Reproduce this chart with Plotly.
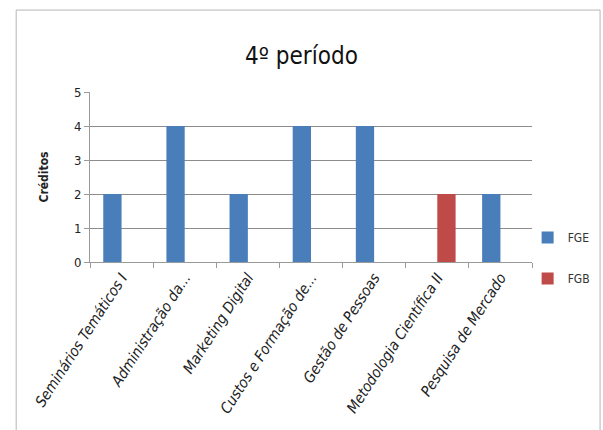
import plotly.graph_objects as go

# Disciplinas do 4º período e créditos por tipo de formação
disciplinas = [
    "Seminários Temáticos I",
    "Administração da...",
    "Marketing Digital",
    "Custos e Formação de...",
    "Gestão de Pessoas",
    "Metodologia Científica II",
    "Pesquisa de Mercado",
]
creditos_fge = [2, 4, 2, 4, 4, None, 2]
creditos_fgb = [None, None, None, None, None, 2, None]
y_ticks = [0, 1, 2, 3, 4, 5]

FONT = "DejaVu Sans Condensed, Liberation Sans Narrow, Open Sans, sans-serif"

fig = go.Figure()
fig.add_trace(go.Bar(x=disciplinas, y=creditos_fge, name="FGE",
                     marker=dict(color="#4a7ebb", line=dict(width=0)),
                     legendgroup="a"))
fig.add_trace(go.Bar(x=disciplinas, y=creditos_fgb, name="FGB",
                     marker=dict(color="#be4b48", line=dict(width=0)),
                     legendgroup="b"))

fig.update_layout(
    width=603, height=430,
    margin=dict(l=90, r=71, t=92, b=168, autoexpand=False),
    paper_bgcolor="white", plot_bgcolor="white",
    barmode="group", bargap=0.42, bargroupgap=0,
    font=dict(family=FONT, color="#222"),
    title=dict(text="4º período", x=0.5, xanchor="center",
               y=0.87, yanchor="middle",
               font=dict(family=FONT, size=24, color="#111")),
    legend=dict(xref="container", x=0.875, y=0.40, xanchor="left",
                yanchor="middle", yref="container",
                font=dict(family=FONT, size=12, color="#333"),
                tracegroupgap=22, itemwidth=30, bgcolor="rgba(0,0,0,0)"),
    xaxis=dict(showgrid=False, showline=True, linecolor="#9a9a9a",
               ticks="outside", ticklen=5, tickcolor="#9a9a9a",
               tickson="boundaries", tickangle=-57,
               tickfont=dict(family=FONT, size=15, color="#222", style="italic")),
    yaxis=dict(range=[0, 5], tickvals=y_ticks, showgrid=True,
               gridcolor="#8c8c8c", gridwidth=1, showline=True,
               linecolor="#9a9a9a", ticks="outside", ticklen=5,
               tickcolor="#9a9a9a", zeroline=False,
               tickfont=dict(family=FONT, size=13, color="#222"),
               title=dict(text="<b>Créditos</b>", standoff=22,
                          font=dict(family=FONT, size=12, color="#222"))),
    shapes=[dict(type="rect", xref="paper", yref="paper",
                 x0=-0.167, x1=1.154, y0=-1.05, y1=1.482,
                 line=dict(color="#b5b5b5", width=1), layer="below")],
)

fig.write_html("out.html")
